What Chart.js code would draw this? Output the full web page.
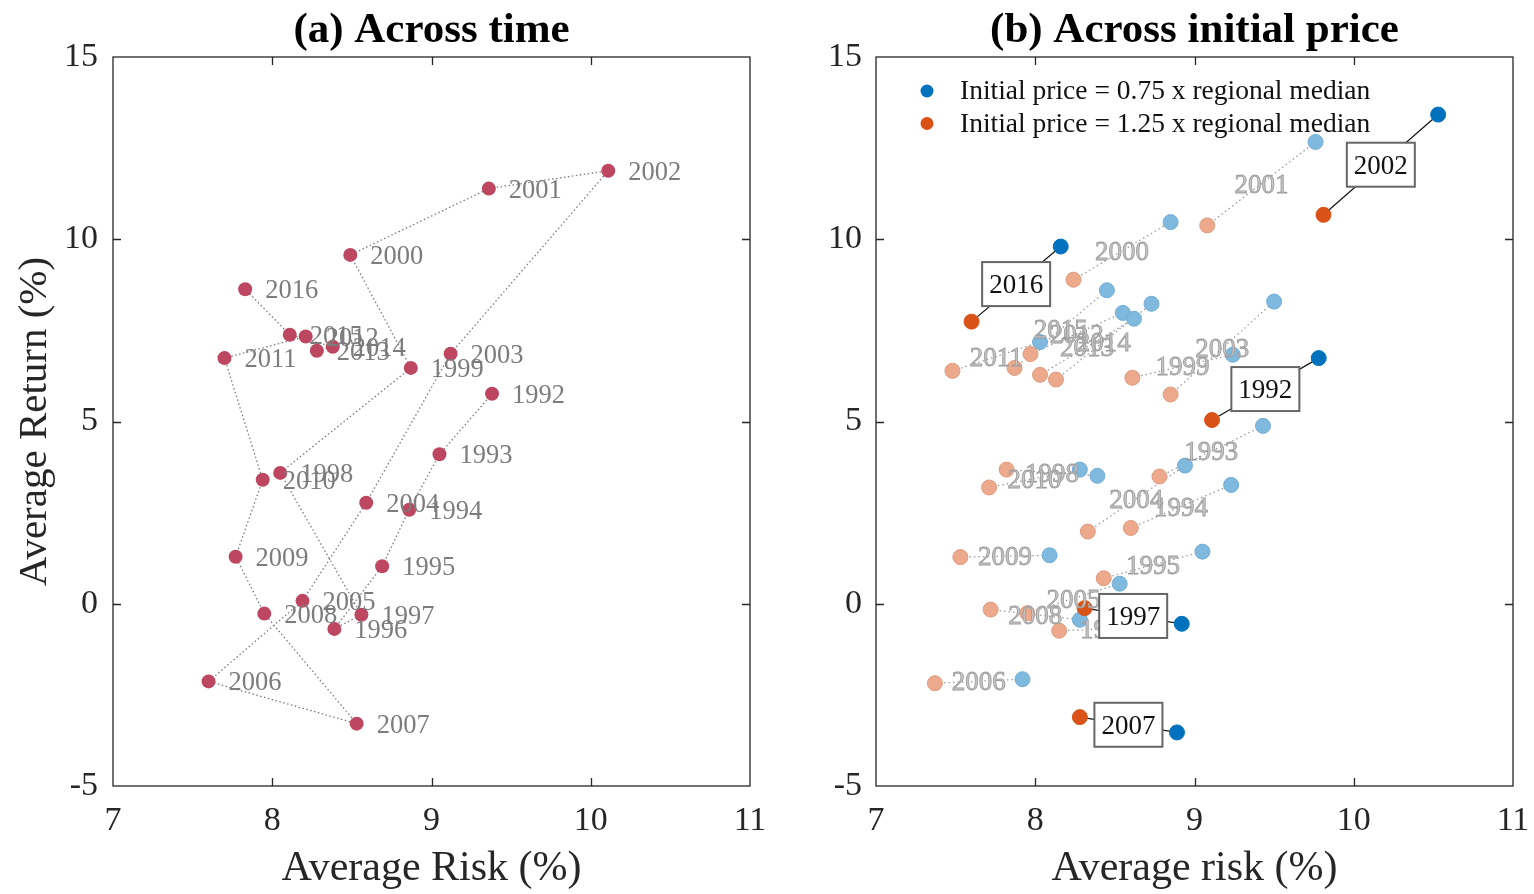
<!DOCTYPE html>
<html>
<head>
<meta charset="utf-8">
<title>Average risk and return</title>
<script src="https://cdn.jsdelivr.net/npm/chart.js@4.4.1/dist/chart.umd.min.js"></script>
<style>
  html, body { margin: 0; padding: 0; background: #fff; }
  #wrap { position: relative; width: 1534px; height: 894px; }
  .panel { position: absolute; top: 0; width: 767px; height: 894px; }
  #panel-a { left: 0; }
  #panel-b { left: 767px; }
</style>
</head>
<body>
<div id="wrap">
  <div class="panel" id="panel-a"><canvas id="chartA" width="767" height="894"></canvas></div>
  <div class="panel" id="panel-b"><canvas id="chartB" width="767" height="894"></canvas></div>
</div>
<script>
// --- data ---
const years = [1992, 1993, 1994, 1995, 1996, 1997, 1998, 1999, 2000, 2001, 2002, 2003, 2004,
               2005, 2006, 2007, 2008, 2009, 2010, 2011, 2012, 2013, 2014, 2015, 2016];

// (a) average over all homes, per year
const riskAll = [9.38, 9.05, 8.86, 8.69, 8.39, 8.56, 8.05, 8.87, 8.49, 9.36, 10.11, 9.12, 8.59,
                 8.19, 7.60, 8.53, 7.95, 7.77, 7.94, 7.70, 8.21, 8.28, 8.38, 8.11, 7.83];
const retAll  = [5.76, 4.10, 2.58, 1.03, -0.69, -0.30, 3.59, 6.47, 9.57, 11.39, 11.88, 6.86, 2.77,
                 0.08, -2.13, -3.29, -0.27, 1.29, 3.40, 6.74, 7.33, 6.94, 7.05, 7.38, 8.63];

// (b) initial price = 0.75 x regional median
const riskLow = [9.78, 9.43, 9.23, 9.05, 8.75, 8.92, 8.39, 9.24, 8.85, 9.76, 10.53, 9.50, 8.94,
                 8.53, 7.92, 8.89, 8.28, 8.09, 8.28, 8.03, 8.55, 8.62, 8.73, 8.45, 8.16];
const retLow  = [6.74, 4.88, 3.26, 1.43, -0.64, -0.55, 3.51, 6.83, 10.47, 12.67, 13.42, 8.29, 3.79,
                 0.55, -2.07, -3.53, -0.44, 1.33, 3.68, 7.18, 7.98, 7.82, 8.23, 8.60, 9.80];

// (b) initial price = 1.25 x regional median
const riskHigh = [9.11, 8.78, 8.60, 8.43, 8.15, 8.31, 7.82, 8.61, 8.24, 9.08, 9.81, 8.85, 8.33,
                  7.95, 7.37, 8.28, 7.72, 7.53, 7.71, 7.48, 7.97, 8.03, 8.13, 7.87, 7.60];
const retHigh  = [5.04, 3.49, 2.08, 0.70, -0.74, -0.12, 3.68, 6.20, 8.89, 10.38, 10.67, 5.74, 1.98,
                  -0.26, -2.18, -3.11, -0.16, 1.28, 3.19, 6.39, 6.85, 6.28, 6.15, 6.47, 7.74];

const highlightYears = [1992, 1997, 2002, 2007, 2016];
const legendLabels = ['Initial price = 0.75 x regional median', 'Initial price = 1.25 x regional median'];
const xTicks = [7, 8, 9, 10, 11];
const yTicks = [-5, 0, 5, 10, 15];

// --- styling ---
const SERIF = '"Liberation Serif", "Times New Roman", serif';
const INK = '#262626';
const RED = '#bd4760';
const BLUE = '#0072bd', BLUE_LIGHT = '#80b9de';
const ORANGE = '#d95319', ORANGE_LIGHT = '#eca98c';

Chart.defaults.font.family = SERIF;
Chart.defaults.color = INK;

const isMarked = i => highlightYears.includes(years[i]);
const toPoints = (xs, ys) => xs.map((x, i) => ({ x: x, y: ys[i] }));

// box with inward ticks on all four sides, MATLAB style
const frame = {
  id: 'frame',
  afterDraw(chart) {
    const { ctx, chartArea: a, scales: { x, y } } = chart;
    const tl = 8;
    ctx.save();
    ctx.strokeStyle = INK;
    ctx.lineWidth = 1.3;
    ctx.strokeRect(a.left, a.top, a.right - a.left, a.bottom - a.top);
    ctx.beginPath();
    xTicks.slice(1, -1).forEach(v => {
      const px = Math.round(x.getPixelForValue(v)) + 0.5;
      ctx.moveTo(px, a.bottom); ctx.lineTo(px, a.bottom - tl);
      ctx.moveTo(px, a.top); ctx.lineTo(px, a.top + tl);
    });
    yTicks.slice(1, -1).forEach(v => {
      const py = Math.round(y.getPixelForValue(v)) + 0.5;
      ctx.moveTo(a.left, py); ctx.lineTo(a.left + tl, py);
      ctx.moveTo(a.right, py); ctx.lineTo(a.right - tl, py);
    });
    ctx.stroke();
    ctx.restore();
  }
};

// bold panel heading centred over the plot area
const panelTitle = {
  id: 'panelTitle',
  afterDraw(chart, args, opts) {
    const { ctx, chartArea: a } = chart;
    ctx.save();
    ctx.font = 'bold 43px ' + SERIF;
    ctx.fillStyle = '#000';
    ctx.textAlign = 'center';
    ctx.textBaseline = 'alphabetic';
    ctx.fillText(opts.text, (a.left + a.right) / 2, 42);
    ctx.restore();
  }
};

// (a) year next to each point
const yearTags = {
  id: 'yearTags',
  afterDatasetsDraw(chart) {
    const { ctx, scales: { x, y } } = chart;
    ctx.save();
    ctx.font = '26.5px ' + SERIF;
    ctx.fillStyle = '#7c7c7c';
    ctx.textAlign = 'left';
    ctx.textBaseline = 'middle';
    years.forEach((yr, i) => {
      ctx.fillText(String(yr), x.getPixelForValue(riskAll[i]) + 20, y.getPixelForValue(retAll[i]) + 2);
    });
    ctx.restore();
  }
};

// (b) grey year at the middle of each pair, boxed years on top
const pairTags = {
  id: 'pairTags',
  afterDatasetsDraw(chart) {
    const { ctx, scales: { x, y } } = chart;
    const mid = i => ({
      px: x.getPixelForValue((riskLow[i] + riskHigh[i]) / 2),
      py: y.getPixelForValue((retLow[i] + retHigh[i]) / 2)
    });
    ctx.save();
    ctx.font = '27px ' + SERIF;
    ctx.textAlign = 'center';
    ctx.textBaseline = 'middle';
    ctx.fillStyle = '#c4c4c4';
    ctx.strokeStyle = '#9c9c9c';
    ctx.lineWidth = 0.8;
    years.forEach((yr, i) => {
      if (isMarked(i)) return;
      const m = mid(i);
      ctx.fillText(String(yr), m.px, m.py + 2);
      ctx.strokeText(String(yr), m.px, m.py + 2);
    });
    years.forEach((yr, i) => {
      if (!isMarked(i)) return;
      const m = mid(i);
      const w = 68, h = 44;
      ctx.fillStyle = '#fff';
      ctx.fillRect(m.px - w / 2, m.py - h / 2, w, h);
      ctx.strokeStyle = '#666';
      ctx.lineWidth = 2;
      ctx.strokeRect(m.px - w / 2, m.py - h / 2, w, h);
      ctx.fillStyle = '#111';
      ctx.fillText(String(yr), m.px, m.py + 2);
    });
    ctx.restore();
  }
};

const legendBox = {
  id: 'legendBox',
  afterDraw(chart) {
    const { ctx, chartArea: a } = chart;
    const colors = [BLUE, ORANGE];
    ctx.save();
    ctx.font = '27.5px ' + SERIF;
    ctx.textAlign = 'left';
    ctx.textBaseline = 'middle';
    legendLabels.forEach((txt, k) => {
      const cy = a.top + 34 + k * 32.5;
      ctx.fillStyle = colors[k];
      ctx.beginPath();
      ctx.arc(a.left + 51, cy, 6.5, 0, Math.PI * 2);
      ctx.fill();
      ctx.fillStyle = '#111';
      ctx.fillText(txt, a.left + 84, cy + 1);
    });
    ctx.restore();
  }
};

function axisOptions(xTitle, yTitle, yWidth) {
  return {
    x: {
      type: 'linear', min: 7, max: 11,
      afterBuildTicks: s => { s.ticks = xTicks.map(v => ({ value: v })); },
      grid: { display: false, drawTicks: false },
      border: { display: false },
      ticks: { color: INK, font: { size: 34 }, padding: 15 },
      title: { display: true, text: xTitle, color: INK, font: { size: 42 }, padding: 0 },
      afterFit: s => { s.height = 108; s.paddingLeft = 0; s.paddingRight = 0; }
    },
    y: {
      type: 'linear', min: -5, max: 15,
      afterBuildTicks: s => { s.ticks = yTicks.map(v => ({ value: v })); },
      grid: { display: false, drawTicks: false },
      border: { display: false },
      ticks: { color: INK, font: { size: 34 }, padding: yTitle ? 15 : 14 },
      title: { display: !!yTitle, text: yTitle || '', color: INK, font: { size: 41 }, padding: { top: 11, bottom: 0 } },
      afterFit: s => { s.width = yWidth; s.paddingTop = 0; s.paddingBottom = 0; }
    }
  };
}

// --- (a) Across time ---
const allPts = toPoints(riskAll, retAll);
new Chart(document.getElementById('chartA'), {
  type: 'scatter',
  data: {
    datasets: [
      { data: allPts, pointRadius: 7, backgroundColor: RED, borderColor: RED, borderWidth: 0, order: 1 },
      { data: allPts, showLine: true, pointRadius: 0, borderColor: '#7a7a7a', borderWidth: 1.3,
        borderDash: [1.5, 2.5], order: 2 }
    ]
  },
  options: {
    responsive: false,
    devicePixelRatio: 1,
    animation: false,
    events: [],
    layout: { padding: { top: 57, right: 17, bottom: 0, left: 0 } },
    scales: axisOptions('Average Risk (%)', 'Average Return (%)', 113),
    plugins: {
      legend: { display: false },
      tooltip: { enabled: false },
      panelTitle: { text: '(a) Across time' }
    }
  },
  plugins: [frame, panelTitle, yearTags]
});

// --- (b) Across initial price ---
const lowPts = toPoints(riskLow, retLow);
const highPts = toPoints(riskHigh, retHigh);

const connectors = years.map((yr, i) => ({
  data: [highPts[i], lowPts[i]],
  showLine: true,
  pointRadius: 0,
  borderColor: isMarked(i) ? '#1a1a1a' : '#9a9a9a',
  borderWidth: 1.3,
  borderDash: isMarked(i) ? [] : [1.5, 3],
  order: 10
}));

new Chart(document.getElementById('chartB'), {
  type: 'scatter',
  data: {
    datasets: [
      ...connectors,
      {
        data: lowPts, pointRadius: 7.5, order: 4,
        backgroundColor: c => isMarked(c.dataIndex) ? BLUE : BLUE_LIGHT,
        borderColor: c => isMarked(c.dataIndex) ? BLUE : '#72acd6',
        borderWidth: 1
      },
      {
        data: highPts, pointRadius: 7.5, order: 3,
        backgroundColor: c => isMarked(c.dataIndex) ? ORANGE : ORANGE_LIGHT,
        borderColor: c => isMarked(c.dataIndex) ? ORANGE : '#df9a7e',
        borderWidth: 1
      }
    ]
  },
  options: {
    responsive: false,
    devicePixelRatio: 1,
    animation: false,
    events: [],
    layout: { padding: { top: 57, right: 21, bottom: 0, left: 0 } },
    scales: axisOptions('Average risk (%)', null, 109),
    plugins: {
      legend: { display: false },
      tooltip: { enabled: false },
      panelTitle: { text: '(b) Across initial price' }
    }
  },
  plugins: [frame, panelTitle, pairTags, legendBox]
});
</script>
</body>
</html>
